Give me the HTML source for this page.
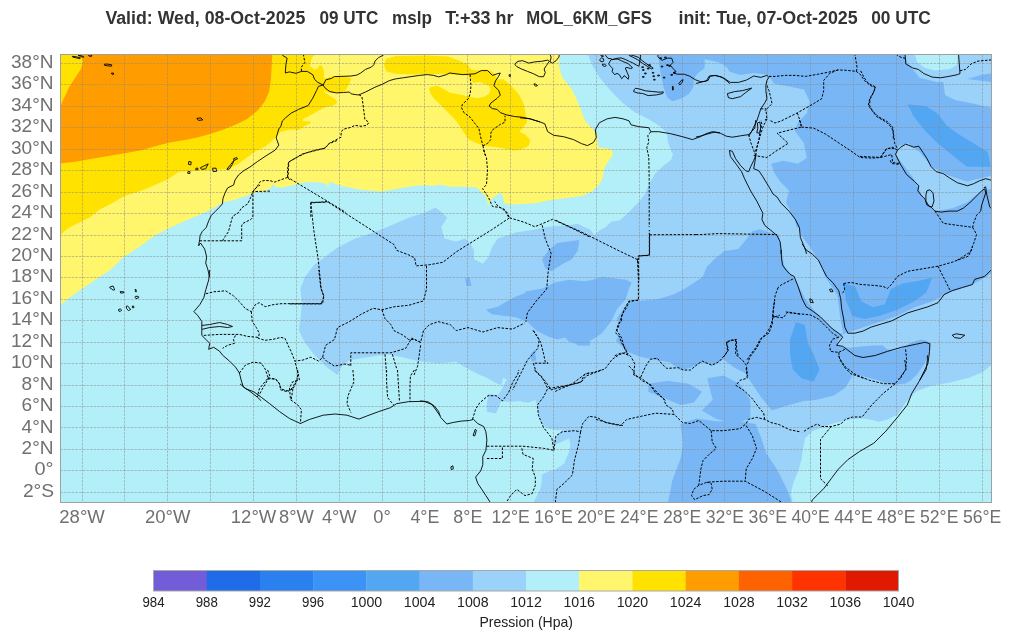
<!DOCTYPE html><html><head><meta charset="utf-8"><style>
html,body{margin:0;padding:0;background:#fff;}
svg{display:block;}
text{font-family:"Liberation Sans",Arial,sans-serif;}
</style></head><body>
<svg width="1011" height="641" viewBox="0 0 1011 641">
<rect width="1011" height="641" fill="#fff"/>
<text x="105.4" y="23.7" font-size="17.6" font-weight="bold" fill="#333" textLength="199.9" lengthAdjust="spacingAndGlyphs">Valid: Wed, 08-Oct-2025</text>
<text x="319.4" y="23.7" font-size="17.6" font-weight="bold" fill="#333" textLength="59.0" lengthAdjust="spacingAndGlyphs">09 UTC</text>
<text x="392.1" y="23.7" font-size="17.6" font-weight="bold" fill="#333" textLength="39.9" lengthAdjust="spacingAndGlyphs">mslp</text>
<text x="445.2" y="23.7" font-size="17.6" font-weight="bold" fill="#333" textLength="68.2" lengthAdjust="spacingAndGlyphs">T:+33 hr</text>
<text x="526.2" y="23.7" font-size="17.6" font-weight="bold" fill="#333" textLength="125.7" lengthAdjust="spacingAndGlyphs">MOL_6KM_GFS</text>
<text x="678.5" y="23.7" font-size="17.6" font-weight="bold" fill="#333" textLength="179.2" lengthAdjust="spacingAndGlyphs">init: Tue, 07-Oct-2025</text>
<text x="871.2" y="23.7" font-size="17.6" font-weight="bold" fill="#333" textLength="59.7" lengthAdjust="spacingAndGlyphs">00 UTC</text>
<defs><clipPath id="mc"><rect x="60.5" y="54.5" width="931.0" height="448.0"/></clipPath></defs>
<g clip-path="url(#mc)">
<rect x="60.5" y="54.5" width="931.0" height="448.0" fill="#b3eff8"/>
<path d="M50.0,50.0 559.9,50.0 559.9,54.0 558.7,65.6 562.2,77.2 571.5,88.9 577.3,100.5 580.8,109.8 585.4,121.4 592.4,128.4 597.1,135.4 598.2,147.0 611.0,149.3 613.3,154.0 608.7,160.9 604.0,167.9 602.9,177.2 599.4,184.2 592.4,191.1 583.1,195.8 566.8,198.1 548.2,200.4 536.6,203.0 529.9,203.5 512.3,204.5 504.4,203.5 502.4,195.6 500.4,192.6 496.4,195.6 490.5,199.5 488.5,206.5 486.5,197.6 480.6,191.6 476.6,187.2 460.8,186.7 448.9,186.7 441.0,184.7 433.0,185.7 421.1,185.3 409.3,186.7 393.4,189.6 381.5,191.6 369.6,190.6 359.7,189.6 349.8,187.6 339.9,185.7 330.0,181.7 329.8,181.5 328.0,187.5 326.8,183.9 320.9,182.7 310.2,182.1 303.1,182.7 297.2,183.9 291.2,185.7 281.7,187.5 275.8,186.9 273.4,183.9 271.0,187.5 265.1,191.0 259.2,191.6 253.3,193.6 244.3,196.6 232.4,200.5 222.5,202.5 214.5,207.5 202.7,213.4 188.8,219.3 171.0,227.3 155.1,235.2 139.3,247.1 123.4,257.0 111.5,268.9 99.6,277.0 78.6,291.1 60.0,305.0 50.0,307.0Z" fill="#fff66b"/>
<path d="M50.0,50.0 315.6,50.0 315.6,54.0 312.0,57.6 309.7,65.9 314.4,69.4 318.0,68.2 319.2,65.3 322.1,65.9 323.9,70.6 324.0,74.7 323.5,77.5 326.8,78.4 330.5,76.6 336.2,76.6 345.5,77.0 351.1,78.4 349.3,84.0 346.5,88.7 344.6,91.5 339.9,92.5 332.4,92.9 326.8,92.0 323.1,89.7 324.9,92.5 330.5,96.2 336.2,100.0 337.1,102.8 333.4,105.6 324.9,107.4 317.4,111.2 310.9,114.9 303.4,118.7 302.5,121.0 310.9,121.5 310.0,123.4 304.3,126.2 298.7,130.0 290.0,129.5 280.0,132.0 275.8,137.2 265.9,146.2 256.0,151.1 246.2,157.9 238.3,163.9 228.4,168.8 218.5,169.8 198.7,170.8 178.9,171.8 167.0,179.7 153.1,185.7 139.3,191.6 125.4,195.6 111.5,203.5 99.6,209.4 89.7,217.4 79.8,222.3 67.9,228.3 60.0,235.2 54.1,235.2Z" fill="#ffe200"/>
<path d="M386.3,58.7 395.8,55.9 427.5,55.6 448.1,56.4 462.3,61.9 468.6,68.2 478.1,71.4 484.5,69.8 478.1,74.6 468.6,75.4 454.4,74.6 443.3,73.8 427.5,74.3 411.7,74.6 395.8,73.8 386.3,71.4 384.0,65.1Z" fill="#ffe200"/>
<path d="M429.1,88.8 430.6,87.2 437.0,85.7 443.3,88.8 449.6,92.8 462.3,95.1 468.6,96.7 478.1,98.3 484.5,96.7 489.2,93.6 490.8,88.8 487.6,84.1 490.8,80.9 495.5,79.3 503.4,79.3 511.4,85.7 519.3,95.1 524.0,104.6 525.6,114.1 527.2,122.1 522.4,128.4 519.3,131.5 525.6,134.7 530.3,140.3 528.8,145.8 522.4,149.0 514.5,150.5 506.6,149.0 498.7,147.4 490.8,146.6 482.9,145.8 475.0,142.6 468.6,139.5 462.3,130.0 456.0,120.5 448.1,112.6 440.1,104.6 433.8,98.3 430.6,93.6Z" fill="#ffe200"/>
<path d="M460.0,62.2 466.6,63.3 472.0,70.9 479.7,70.0 487.3,69.6 492.8,72.0 496.6,76.4 494.9,81.8 490.6,85.7 485.1,84.2 479.7,81.8 473.1,83.2 470.9,78.6 466.6,74.2 460.0,73.1Z" fill="#ffe200"/>
<path d="M83.0,50.0 272.5,50.0 271.7,66.5 270.9,79.0 269.2,91.4 264.7,101.4 257.2,110.9 247.2,118.9 234.7,125.1 222.2,130.1 209.8,133.9 197.3,137.6 184.8,140.1 169.8,142.6 159.8,145.1 142.4,150.1 124.9,153.3 109.9,155.8 92.4,158.8 75.0,161.8 57.5,163.8 57.0,106.5 60.4,106.5 63.0,100.0 65.6,95.0 68.7,87.9 72.6,81.7 77.3,74.6 81.2,68.4 82.6,63.7 83.0,54.0Z" fill="#ff9c00"/>
<path d="M587.8,50.0 587.8,54.0 592.4,65.6 599.4,77.2 611.0,91.2 622.6,102.8 634.3,112.1 648.2,119.1 659.8,126.1 666.8,133.0 668.0,142.3 671.4,151.6 673.0,154.0 671.0,159.9 663.1,165.9 655.1,173.8 649.2,183.7 645.2,193.6 639.3,201.5 633.3,207.5 625.4,215.4 619.5,220.4 611.5,221.4 605.6,227.3 599.6,230.3 594.7,235.2 589.7,229.3 583.8,226.7 577.8,223.7 568.9,225.2 548.2,226.7 533.3,229.7 515.5,232.6 497.7,238.6 491.8,247.5 488.8,256.4 482.9,263.8 474.0,259.3 474.0,250.4 471.0,244.5 465.1,238.6 456.2,241.5 444.3,238.6 441.3,226.7 447.3,217.8 441.3,211.9 435.4,207.4 426.5,211.9 408.7,217.8 387.9,226.7 373.1,232.6 355.3,238.6 337.5,247.5 325.6,256.4 313.7,265.3 304.8,277.2 300.4,289.0 301.9,303.9 300.4,318.7 298.9,330.6 304.8,342.4 313.7,354.3 325.6,366.2 337.5,375.1 341.9,366.2 349.3,360.2 367.2,357.3 387.9,354.3 402.8,357.3 414.6,360.2 423.5,361.7 438.4,363.2 456.2,361.7 468.0,369.1 479.9,375.1 486.9,377.7 495.9,383.1 501.3,384.9 503.1,377.7 506.6,379.5 501.3,390.2 497.7,395.6 488.7,393.8 486.9,402.8 486.9,411.8 495.9,413.6 501.3,401.0 510.2,401.9 519.2,401.0 528.2,402.8 535.5,400.0 537.1,406.4 538.6,415.9 543.4,425.5 548.2,428.6 557.7,430.2 562.5,429.4 559.3,433.4 556.1,438.2 551.4,443.0 554.6,444.6 562.5,441.4 568.9,438.2 570.5,444.6 568.9,452.5 564.1,463.7 554.6,470.0 548.2,471.6 541.8,474.8 541.8,481.2 540.2,489.1 537.1,495.5 533.9,502.0 533.9,510.0 793.2,510.0 793.2,505.0 790.9,492.9 793.2,483.4 798.0,471.6 801.5,459.7 802.7,450.2 805.1,438.3 812.2,431.2 821.7,427.7 831.2,424.1 840.7,421.7 850.2,419.3 859.7,418.2 869.2,419.3 878.7,421.7 888.2,419.3 897.7,414.6 907.2,400.4 916.7,390.9 930.9,386.1 949.9,382.6 968.9,377.8 983.1,371.9 991.5,364.7 1000.0,362.0 1000.0,50.0Z" fill="#9bd2f9"/>
<path d="M542.2,259.3 548.2,250.4 557.1,243.0 568.9,241.5 579.3,240.1 577.8,250.4 571.9,259.3 563.0,263.8 551.1,271.2 545.2,268.2Z" fill="#78b6f5"/>
<path d="M485.8,309.8 497.7,306.8 512.6,297.9 527.4,292.0 545.2,289.0 557.1,286.1 571.9,286.1 583.8,283.1 590.0,284.6 590.0,345.4 577.8,345.4 568.9,336.5 557.1,339.5 548.2,336.5 536.3,330.6 527.4,321.7 515.5,317.2 503.6,315.7 491.8,314.2Z" fill="#78b6f5"/>
<path d="M465.1,278.6 469.5,277.2 471.6,286.1 466.6,286.1Z" fill="#78b6f5"/>
<path d="M530.4,354.3 534.8,349.9 536.3,360.2 531.8,361.7Z" fill="#78b6f5"/>
<path d="M697.5,50.0 697.5,54.0 704.6,59.3 713.5,61.1 720.6,62.9 726.0,66.5 729.7,71.8 740.2,75.0 753.4,73.0 768.2,74.8 774.2,83.7 789.0,86.6 803.9,89.6 809.8,101.5 806.8,113.3 797.9,122.2 795.0,131.2 803.9,143.0 806.8,157.9 797.9,163.8 783.1,160.8 771.2,163.8 774.2,172.7 780.1,181.6 789.0,190.5 786.1,202.4 795.0,220.2 800.9,244.0 778.0,235.0 760.0,229.3 752.3,231.3 746.3,239.2 738.4,249.1 724.5,251.1 714.6,259.0 706.7,266.9 702.7,277.0 685.2,288.6 673.4,294.5 658.5,299.0 643.7,300.4 628.9,301.9 622.9,309.3 617.0,318.2 620.0,333.1 616.1,340.7 626.8,351.5 640.3,356.8 653.7,359.5 669.8,362.2 680.5,370.3 691.3,367.6 702.0,362.2 712.7,364.9 723.5,359.5 734.2,367.6 744.9,372.9 750.3,381.0 761.0,397.1 771.8,410.5 787.9,405.2 804.0,401.0 815.5,400.1 833.7,395.5 845.1,388.0 850.0,380.0 853.2,373.9 859.2,375.1 867.5,377.5 877.0,379.9 886.5,383.4 896.0,384.6 905.5,383.4 910.2,381.0 917.3,373.9 923.3,365.6 929.2,353.7 930.4,343.1 926.8,340.7 920.9,339.5 910.2,343.1 903.1,347.8 893.6,350.8 886.5,349.0 882.9,345.4 873.4,345.4 861.5,346.6 849.7,347.8 837.8,346.6 838.0,340.0 843.4,333.9 861.2,327.9 879.0,322.0 896.8,316.1 914.6,307.2 932.4,301.2 950.2,292.3 968.0,286.4 979.9,280.4 995.0,271.5 1000.0,271.0 1000.0,50.0Z" fill="#78b6f5"/>
<path d="M658.3,53.1 697.5,53.1 704.6,59.3 704.6,68.2 697.5,73.6 693.9,78.9 693.1,87.8 688.6,94.1 681.5,98.5 672.6,101.2 667.2,97.6 663.7,87.8 661.0,75.4 659.2,64.7Z" fill="#78b6f5"/>
<path d="M525.0,291.5 542.8,288.6 554.7,282.6 569.5,279.7 584.3,281.2 593.2,279.7 602.2,276.7 614.0,278.2 625.9,279.7 631.8,282.6 628.9,288.6 625.9,299.0 617.0,309.3 611.1,321.2 602.2,333.1 593.2,339.0 581.4,345.0 569.5,342.0 563.6,336.1 554.7,330.1 542.8,324.2 533.9,321.2 525.0,321.2Z" fill="#78b6f5"/>
<path d="M648.3,383.7 667.1,381.0 688.5,383.7 702.0,391.7 693.9,402.4 680.5,405.1 661.7,397.1 648.3,391.7Z" fill="#78b6f5"/>
<path d="M707.3,378.3 723.4,375.6 739.5,383.7 750.3,399.8 750.3,418.5 734.2,423.9 715.4,418.5 702.0,410.5 712.7,399.8Z" fill="#78b6f5"/>
<path d="M680.5,423.9 696.6,418.5 715.4,421.2 739.5,421.2 755.6,423.9 761.0,437.3 766.4,453.4 777.1,469.5 787.8,491.0 793.2,507.1 667.1,507.1 672.4,480.3 680.5,458.8 683.2,442.7Z" fill="#78b6f5"/>
<path d="M778.1,230.0 781.1,247.8 784.0,265.6 795.9,280.4 804.8,298.2 813.7,310.1 825.6,322.0 837.4,332.4 843.4,333.9 840.4,319.0 837.4,295.3 825.6,277.5 819.6,262.6 810.7,247.8 801.8,235.9 798.9,228.0 778.0,228.0Z" fill="#9bd2f9"/>
<path d="M990.8,175.7 967.1,181.6 949.3,175.7 931.5,166.8 919.6,151.9 907.7,143.0 898.8,146.0 895.8,154.9 904.7,166.8 913.6,178.6 919.6,190.5 925.5,202.4 934.4,211.3 952.2,208.3 967.1,202.4 981.9,190.5 1000.0,187.5 1000.0,175.0Z" fill="#9bd2f9"/>
<path d="M904.7,50.0 904.7,54.0 907.7,62.9 919.6,77.7 937.4,82.2 961.1,80.7 981.9,74.8 1000.0,71.8 1000.0,50.0Z" fill="#9bd2f9"/>
<path d="M943.0,80.0 960.0,78.0 975.0,80.0 992.0,82.0 992.0,108.0 975.0,104.0 955.0,100.0 945.0,95.0Z" fill="#9bd2f9"/>
<path d="M913.0,50.0 915.0,54.9 917.0,62.0 925.0,68.0 935.0,70.5 950.0,69.0 957.0,65.0 958.0,50.0Z" fill="#b3eff8"/>
<path d="M907.7,104.4 925.5,105.9 937.4,113.3 946.3,125.2 958.2,134.1 973.0,143.0 987.8,151.9 990.8,166.8 967.1,166.8 952.2,154.9 937.4,143.0 925.5,131.2 913.6,116.3Z" fill="#53a6f2"/>
<path d="M790.0,339.8 795.9,322.0 804.8,325.0 807.8,342.8 813.7,354.6 819.6,369.5 813.7,381.3 801.8,378.4 792.9,369.5 790.0,354.6Z" fill="#53a6f2"/>
<path d="M843.4,283.4 855.2,286.4 861.2,301.2 873.0,307.2 884.9,304.2 890.8,289.3 902.7,283.4 920.5,280.4 932.4,277.5 926.5,292.3 914.6,301.2 896.8,310.1 879.0,316.1 864.1,319.0 852.3,316.1 846.3,301.2Z" fill="#53a6f2"/>
<path d="M82.5,54.5V502.5M124.5,54.5V502.5M167.5,54.5V502.5M210.5,54.5V502.5M253.5,54.5V502.5M296.5,54.5V502.5M339.5,54.5V502.5M382.5,54.5V502.5M424.5,54.5V502.5M467.5,54.5V502.5M510.5,54.5V502.5M553.5,54.5V502.5M596.5,54.5V502.5M639.5,54.5V502.5M682.5,54.5V502.5M724.5,54.5V502.5M767.5,54.5V502.5M810.5,54.5V502.5M853.5,54.5V502.5M896.5,54.5V502.5M939.5,54.5V502.5M982.5,54.5V502.5M60.5,492.5H991.5M60.5,470.5H991.5M60.5,449.5H991.5M60.5,427.5H991.5M60.5,406.5H991.5M60.5,385.5H991.5M60.5,363.5H991.5M60.5,342.5H991.5M60.5,320.5H991.5M60.5,299.5H991.5M60.5,277.5H991.5M60.5,256.5H991.5M60.5,235.5H991.5M60.5,213.5H991.5M60.5,192.5H991.5M60.5,170.5H991.5M60.5,149.5H991.5M60.5,127.5H991.5M60.5,106.5H991.5M60.5,84.5H991.5M60.5,63.5H991.5" stroke="#888" stroke-opacity="0.62" stroke-width="0.8" stroke-dasharray="2.6 1.1" fill="none"/>
<path d="M290.0,303.9 321.2,303.9 324.1,296.4 321.2,289.0 318.2,259.3 313.7,229.7 310.8,203.0 327.1,201.5 393.9,244.5 396.8,250.4 408.7,254.9 414.6,257.9 416.1,265.9 429.5,264.7 442.8,262.3 456.2,251.9 468.0,244.5 491.8,229.7 509.6,217.8 506.6,211.9 497.7,205.9 494.7,201.5" stroke="#000" stroke-width="1" stroke-dasharray="2.5 1.5" fill="none"/>
<path d="M509.6,217.8 524.4,222.3 534.8,226.7 542.2,223.7 552.6,219.3 571.9,228.2 590.0,237.1" stroke="#000" stroke-width="1" stroke-dasharray="2.5 1.5" fill="none"/>
<path d="M542.2,225.2 545.2,238.6 551.1,253.4 548.2,271.2 546.7,289.0 536.3,300.9 527.4,312.8 525.9,321.7" stroke="#000" stroke-width="1" stroke-dasharray="2.5 1.5" fill="none"/>
<path d="M426.5,265.9 426.5,289.0 423.5,300.9 408.7,305.3 393.9,306.8 382.0,309.8 373.1,308.3 361.2,314.2 349.3,321.7 337.5,327.6 334.5,339.5 325.6,345.4 322.6,357.3" stroke="#000" stroke-width="1" stroke-dasharray="2.5 1.5" fill="none"/>
<path d="M382.0,309.8 385.0,318.7 390.9,324.6 393.9,330.6 402.8,335.0 408.7,339.5 414.6,339.5 420.6,342.4 423.5,330.6 429.5,324.6 438.4,321.7 450.2,324.6 456.2,330.6 468.0,327.6 482.9,332.0 497.7,327.6 512.6,329.1 524.4,323.1" stroke="#000" stroke-width="1" stroke-dasharray="2.5 1.5" fill="none"/>
<path d="M420.6,342.4 411.7,338.0 405.7,348.4 390.9,352.8 379.0,352.8 350.8,352.8 350.8,366.2" stroke="#000" stroke-width="1" stroke-dasharray="2.5 1.5" fill="none"/>
<path d="M385.0,354.3 386.4,372.1" stroke="#000" stroke-width="1" stroke-dasharray="2.5 1.5" fill="none"/>
<path d="M392.4,354.3 396.8,369.1" stroke="#000" stroke-width="1" stroke-dasharray="2.5 1.5" fill="none"/>
<path d="M420.6,345.4 417.6,366.2 414.0,375.1" stroke="#000" stroke-width="1" stroke-dasharray="2.5 1.5" fill="none"/>
<path d="M533.3,330.6 539.3,339.5 537.8,348.4 527.4,360.2 521.5,372.1 515.5,384.0 512.6,389.9" stroke="#000" stroke-width="1" stroke-dasharray="2.5 1.5" fill="none"/>
<path d="M533.3,330.6 540.7,342.4 543.7,354.3 545.2,361.7 548.2,363.2 533.3,363.2 536.3,372.1 545.2,381.0 551.1,389.9 571.9,384.0 583.8,375.1 590.0,372.1" stroke="#000" stroke-width="1" stroke-dasharray="2.5 1.5" fill="none"/>
<path d="M282.4,50.0 282.4,55.2 287.1,58.2 285.9,64.7 285.3,73.0 289.4,71.9 295.9,73.3 301.5,71.4 307.2,71.4 312.8,74.7 314.6,79.4 317.5,82.2 323.1,85.0 325.9,79.8 331.5,78.4 334.3,76.6 340.9,76.4 350.2,76.1 356.8,75.1 360.7,73.0 365.5,69.4 371.4,67.1 373.8,64.7 375.0,61.1 378.5,57.6 383.3,55.2 385.0,50.0" stroke="#000" stroke-width="0.9" fill="none" stroke-linejoin="round"/>
<path d="M301.4,71.2 301.4,67.1 304.9,62.3 303.7,56.4 303.1,50.0" stroke="#000" stroke-width="1" stroke-dasharray="2.5 1.5" fill="none"/>
<path d="M323.1,85.0 324.9,87.8 329.6,91.5 336.2,92.9 343.7,92.5 349.3,92.0 351.2,93.9 356.8,94.8 358.9,94.9 365.5,92.0 375.0,87.2 382.1,84.3 389.2,80.7 395.0,79.0 403.7,77.7 419.6,75.4 427.5,74.6 433.8,75.4 438.6,76.9 446.5,74.6 449.6,73.0 456.0,73.8 462.3,74.6 468.6,74.3 475.0,73.8 481.3,70.6 487.6,70.6 492.4,75.4 497.1,73.8 500.3,73.0 498.7,76.2 495.5,80.9 493.9,85.7 498.7,90.4 500.3,95.1 497.1,98.3 490.8,103.1 489.2,106.2 492.4,108.6 497.1,109.4 500.3,112.6 506.6,114.9 514.5,116.5 522.4,117.3 530.3,118.9 540.0,122.0" stroke="#000" stroke-width="0.9" fill="none" stroke-linejoin="round"/>
<path d="M323.1,85.0 318.4,86.4 316.5,90.6 312.8,98.1 308.1,105.6 298.7,109.3 291.2,113.1 285.6,117.8 282.3,121.0 280.9,126.2 278.8,129.0 276.2,137.8 278.8,145.2 275.0,150.2 265.0,156.5 257.5,161.5 250.0,167.0 244.0,170.5 238.5,175.0 235.0,180.0 233.6,185.0 227.5,188.0 225.0,193.1 223.0,198.2 222.4,203.8 219.4,207.3 215.3,211.4 211.3,215.4 208.8,220.5 206.2,227.6 202.2,231.6 200.1,235.7 199.6,239.8 198.6,245.8 200.5,243.0 204.7,249.1 206.7,257.0 205.7,263.0 207.7,268.9 209.7,277.0" stroke="#000" stroke-width="0.9" fill="none" stroke-linejoin="round"/>
<path d="M209.7,270.0 208.7,279.9 205.8,289.8 203.8,297.7 199.8,304.7 193.9,311.6 197.8,315.6 201.8,321.5 201.8,325.5 201.8,329.4 201.8,335.4 205.8,339.3 209.7,343.3 208.7,349.3 213.7,347.3 219.6,351.2 222.6,355.2 229.5,361.1 235.5,367.1 239.4,373.0 241.4,381.0 243.4,386.9 249.3,390.9 257.3,397.0 261.2,400.8" stroke="#000" stroke-width="0.9" fill="none" stroke-linejoin="round"/>
<path d="M201.8,325.5 209.7,324.5 219.6,322.5 227.6,324.5 232.5,326.5 227.6,327.5 219.6,326.5 209.7,327.5 201.8,329.4" stroke="#000" stroke-width="0.9" fill="none" stroke-linejoin="round"/>
<path d="M205.8,293.8 213.7,291.8 225.6,290.8 233.5,295.8 239.4,301.7 245.4,308.6 251.3,311.6 255.3,304.7 259.3,302.7 265.2,306.7 273.1,304.7 281.0,303.7 298.9,303.7 322.7,303.7 323.6,295.8 320.7,287.8 319.7,277.9 318.7,270.0" stroke="#000" stroke-width="1" stroke-dasharray="2.5 1.5" fill="none"/>
<path d="M251.3,311.6 252.3,321.5 256.3,327.5 259.3,333.4 258.3,338.4 265.2,340.3 273.1,339.3 281.0,337.4 285.0,338.4 289.0,347.3 291.0,351.2 294.9,361.1 302.8,360.1 310.8,357.2 318.7,361.1 322.7,357.2 326.6,361.1 334.5,366.1 344.4,364.1 350.4,365.1" stroke="#000" stroke-width="1" stroke-dasharray="2.5 1.5" fill="none"/>
<path d="M203.8,335.4 219.6,334.4 239.4,334.4 247.4,336.4 258.3,337.4" stroke="#000" stroke-width="1" stroke-dasharray="2.5 1.5" fill="none"/>
<path d="M235.5,335.4 233.5,339.3 234.5,343.3 227.6,345.3 222.6,348.3" stroke="#000" stroke-width="1" stroke-dasharray="2.5 1.5" fill="none"/>
<path d="M239.4,373.0 245.4,365.1 253.3,362.1 261.2,363.1 265.2,369.1 268.2,378.0 263.2,383.9 259.3,388.9 257.3,397.0" stroke="#000" stroke-width="1" stroke-dasharray="2.5 1.5" fill="none"/>
<path d="M268.2,378.0 275.1,379.0 279.1,382.9 281.0,388.9 287.0,390.9 292.9,388.9 296.9,381.0 297.9,373.0 295.9,365.1 294.9,361.1" stroke="#000" stroke-width="1" stroke-dasharray="2.5 1.5" fill="none"/>
<path d="M292.9,388.9 291.0,400.8" stroke="#000" stroke-width="1" stroke-dasharray="2.5 1.5" fill="none"/>
<path d="M240.0,383.9 245.9,388.8 253.9,391.8 261.8,397.7 269.7,403.7 279.6,411.6 289.5,418.5 300.4,423.5 309.3,419.5 323.2,415.2 335.1,414.0 347.0,415.2 358.9,419.1 366.8,416.0 378.7,411.6 390.6,407.6 396.5,403.7 408.4,401.7 424.3,401.3 432.2,404.7 439.9,415.6" stroke="#000" stroke-width="0.9" fill="none" stroke-linejoin="round"/>
<path d="M297.5,370.0 299.4,379.9 292.5,381.9 289.5,387.8 290.5,399.7 297.5,404.7 301.4,409.6 300.4,423.5" stroke="#000" stroke-width="1" stroke-dasharray="2.5 1.5" fill="none"/>
<path d="M267.7,370.0 269.7,375.9 267.7,379.9 261.8,389.8 258.8,395.8" stroke="#000" stroke-width="1" stroke-dasharray="2.5 1.5" fill="none"/>
<path d="M267.7,378.9 275.7,378.9 279.6,383.9 280.6,389.8 287.6,391.8 292.5,387.8 297.5,377.9" stroke="#000" stroke-width="1" stroke-dasharray="2.5 1.5" fill="none"/>
<path d="M352.9,370.0 353.9,381.9 348.0,395.8 347.0,403.7 351.0,412.6" stroke="#000" stroke-width="1" stroke-dasharray="2.5 1.5" fill="none"/>
<path d="M386.6,370.0 386.6,381.9 387.6,397.7 393.5,404.7" stroke="#000" stroke-width="1" stroke-dasharray="2.5 1.5" fill="none"/>
<path d="M397.5,370.0 398.5,385.9 399.5,401.7" stroke="#000" stroke-width="1" stroke-dasharray="2.5 1.5" fill="none"/>
<path d="M414.4,370.0 410.4,375.9 410.0,385.9 410.0,401.7" stroke="#000" stroke-width="1" stroke-dasharray="2.5 1.5" fill="none"/>
<path d="M420.0,400.9 428.2,401.9 434.4,406.0 438.5,411.2 440.6,417.4 446.8,424.0 452.9,422.5 461.2,421.1 469.4,420.5 473.5,419.4 477.7,423.5 483.8,426.6 485.9,431.8 486.9,440.0 485.9,450.3 482.8,456.5 482.8,464.7 480.7,470.9 475.6,477.1 477.7,483.3 481.8,489.4 485.9,495.6 490.0,502.0 492.1,505.9" stroke="#000" stroke-width="0.9" fill="none" stroke-linejoin="round"/>
<path d="M473.1,435.5 475.2,429.3 476.4,430.1 474.8,435.9Z" stroke="#000" stroke-width="0.9" fill="none" stroke-linejoin="round"/>
<path d="M450.9,466.8 452.9,465.8 453.4,468.8 451.3,469.7Z" stroke="#000" stroke-width="0.9" fill="none" stroke-linejoin="round"/>
<path d="M472.5,419.4 475.6,409.1 479.7,402.9 488.0,395.7 496.2,395.7 502.4,400.9 508.5,392.7 512.7,382.4 517.8,374.1 518.8,370.0" stroke="#000" stroke-width="1" stroke-dasharray="2.5 1.5" fill="none"/>
<path d="M534.3,370.0 541.5,376.2 547.7,388.5 543.6,396.8 537.4,405.0 538.4,415.3 543.6,427.7 551.8,438.0 553.9,450.3" stroke="#000" stroke-width="1" stroke-dasharray="2.5 1.5" fill="none"/>
<path d="M486.9,446.2 502.4,446.2 523.0,446.2 543.6,448.3 553.9,450.3" stroke="#000" stroke-width="1" stroke-dasharray="2.5 1.5" fill="none"/>
<path d="M486.9,458.5 502.4,458.5 502.4,446.2" stroke="#000" stroke-width="1" stroke-dasharray="2.5 1.5" fill="none"/>
<path d="M521.9,448.3 523.0,454.4 533.3,458.5 532.2,468.8 535.3,477.1 535.3,485.3 532.2,493.6 525.0,495.6 516.8,489.4 510.6,495.6 506.5,502.0" stroke="#000" stroke-width="1" stroke-dasharray="2.5 1.5" fill="none"/>
<path d="M553.9,450.3 555.9,435.9 562.1,431.8 574.4,430.7 580.6,431.8 582.7,423.5 588.9,416.3 597.1,417.4 605.3,422.5 617.7,424.6 623.9,425.6" stroke="#000" stroke-width="1" stroke-dasharray="2.5 1.5" fill="none"/>
<path d="M580.6,431.8 578.6,444.1 574.4,460.6 572.4,475.0 564.1,483.3 556.9,489.4 554.9,505.9" stroke="#000" stroke-width="1" stroke-dasharray="2.5 1.5" fill="none"/>
<path d="M548.7,388.5 560.0,386.5 568.3,385.4 580.6,382.4 584.7,374.1 595.0,372.1 601.2,370.0" stroke="#000" stroke-width="1" stroke-dasharray="2.5 1.5" fill="none"/>
<path d="M628.8,365.9 632.9,370.0 635.0,375.1 641.2,378.2 649.4,384.4 655.6,392.7 663.8,398.8 665.9,405.0 672.1,409.1 674.1,414.3" stroke="#000" stroke-width="1" stroke-dasharray="2.5 1.5" fill="none"/>
<path d="M595.9,419.4 600.0,420.5 610.3,423.5 620.6,425.6 626.8,419.4 641.2,416.3 655.6,413.2 672.1,414.3 674.1,414.3 682.4,422.5 690.6,423.5 698.8,420.5 705.0,425.6 711.2,430.7 723.6,430.7 731.8,429.7 740.0,428.7 746.2,423.5 748.3,419.4 756.5,417.4 764.7,419.4 770.9,422.5 779.2,424.6 789.5,429.7 800.0,431.8" stroke="#000" stroke-width="1" stroke-dasharray="2.5 1.5" fill="none"/>
<path d="M711.2,430.7 712.2,442.1 716.3,448.3 709.1,454.4 703.0,460.6 700.9,468.8 698.8,485.3 707.1,482.2 723.6,481.2 745.2,481.2 764.7,491.5 781.2,502.0" stroke="#000" stroke-width="1" stroke-dasharray="2.5 1.5" fill="none"/>
<path d="M746.2,425.6 752.4,435.9 756.5,448.3 752.4,458.5 746.2,468.8 745.2,481.2" stroke="#000" stroke-width="1" stroke-dasharray="2.5 1.5" fill="none"/>
<path d="M698.8,485.3 693.7,489.4 691.6,495.6 694.7,499.7 703.0,495.6 709.1,494.6 712.2,489.4 711.2,483.3 707.1,482.2" stroke="#000" stroke-width="1" stroke-dasharray="2.5 1.5" fill="none"/>
<path d="M746.2,367.9 747.2,378.2 740.0,380.3 735.9,385.4 744.1,390.6 752.4,398.8 758.6,407.1 763.7,413.2 764.7,419.4" stroke="#000" stroke-width="1" stroke-dasharray="2.5 1.5" fill="none"/>
<path d="M927.4,355.3 927.4,360.0 926.2,369.5 919.1,381.4 911.9,393.2 907.2,405.1 897.7,417.0 885.8,431.2 873.9,443.1 859.7,451.4 847.8,459.7 838.3,469.2 831.2,478.7 824.1,488.2 817.0,495.3 812.2,500.1 809.9,507.2" stroke="#000" stroke-width="0.9" fill="none" stroke-linejoin="round"/>
<path d="M904.8,360.0 906.0,369.5 895.3,383.7 883.4,383.7 869.2,380.2 855.0,374.2 845.5,367.1 840.7,360.0 838.3,355.3" stroke="#000" stroke-width="1" stroke-dasharray="2.5 1.5" fill="none"/>
<path d="M895.3,383.7 883.4,393.2 871.6,405.1 862.1,417.0 852.6,417.0 845.5,419.3 840.7,424.1 831.2,426.5 821.7,426.5 817.0,424.1 807.5,428.8 802.7,432.4" stroke="#000" stroke-width="1" stroke-dasharray="2.5 1.5" fill="none"/>
<path d="M831.2,426.5 820.5,439.5 820.5,455.0 820.5,478.7 827.7,485.8" stroke="#000" stroke-width="1" stroke-dasharray="2.5 1.5" fill="none"/>
<path d="M802.2,243.9 806.2,250.0 812.3,254.1 818.4,260.1 822.4,268.3 826.5,276.4 832.6,282.4 838.7,290.6 840.7,298.7 841.7,308.8 843.7,319.0 844.8,327.1 847.8,333.2 854.9,333.2 863.0,331.1 871.1,327.1 881.3,324.0 891.4,321.0 899.5,316.9 907.6,312.9 917.8,309.8 927.9,306.8 938.0,302.7 944.1,294.6 952.2,290.6 962.4,287.5 972.5,284.5 974.6,279.4 984.7,276.4 990.8,270.3 995.0,266.2" stroke="#000" stroke-width="0.9" fill="none" stroke-linejoin="round"/>
<path d="M790.0,274.3 794.1,276.4 798.1,286.5 802.2,298.7 806.2,306.8 812.3,310.8 820.4,316.9 826.5,323.0 832.6,329.1 838.7,333.2 842.7,337.2 838.7,342.3 836.6,345.3 842.7,346.3 846.8,349.4 854.9,355.5 863.0,357.5 875.2,355.5 887.3,351.4 901.5,347.3 915.7,344.3 924.9,342.3 929.9,343.7 929.5,351.4 927.9,363.6 923.9,371.7 919.8,380.0" stroke="#000" stroke-width="0.9" fill="none" stroke-linejoin="round"/>
<path d="M952.2,335.2 956.3,333.8 964.8,335.2 960.4,338.4 954.7,337.6Z" stroke="#000" stroke-width="0.9" fill="none" stroke-linejoin="round"/>
<path d="M829.5,289.5 831.6,288.9 833.0,291.6 830.6,291.8Z" stroke="#000" stroke-width="0.9" fill="none" stroke-linejoin="round"/>
<path d="M809.9,298.7 811.9,299.7 813.3,302.7 810.3,302.3Z" stroke="#000" stroke-width="0.9" fill="none" stroke-linejoin="round"/>
<path d="M843.7,283.5 850.8,282.4 861.0,284.5 875.2,285.5 883.3,286.5 887.3,288.5 891.4,284.5 897.5,276.4 907.6,271.3 919.8,269.3 938.0,266.2 952.2,262.2 968.5,256.1 971.5,250.0 972.5,245.9" stroke="#000" stroke-width="1" stroke-dasharray="2.5 1.5" fill="none"/>
<path d="M843.7,283.5 844.8,290.6 841.7,293.6" stroke="#000" stroke-width="1" stroke-dasharray="2.5 1.5" fill="none"/>
<path d="M938.0,266.2 944.1,278.4 950.2,290.6" stroke="#000" stroke-width="1" stroke-dasharray="2.5 1.5" fill="none"/>
<path d="M785.9,311.9 790.0,312.9 800.1,313.9 810.3,314.9 818.4,319.0 826.5,327.1 832.6,333.2 838.7,337.2" stroke="#000" stroke-width="1" stroke-dasharray="2.5 1.5" fill="none"/>
<path d="M838.7,337.2 832.6,339.2 829.5,345.3 830.6,351.4 838.7,352.4 844.8,349.4" stroke="#000" stroke-width="1" stroke-dasharray="2.5 1.5" fill="none"/>
<path d="M838.7,352.4 839.7,359.5 844.8,367.6 850.8,373.7 865.0,378.8" stroke="#000" stroke-width="1" stroke-dasharray="2.5 1.5" fill="none"/>
<path d="M905.6,349.4 906.6,359.5 905.6,369.7 899.5,380.0" stroke="#000" stroke-width="1" stroke-dasharray="2.5 1.5" fill="none"/>
<path d="M695.9,137.0 700.0,136.2 708.1,133.8 714.2,132.2 720.3,133.2 726.4,136.2 732.4,137.2 740.6,135.8 748.7,134.6 754.8,128.1 755.8,120.0" stroke="#000" stroke-width="0.9" fill="none" stroke-linejoin="round"/>
<path d="M781.1,253.9 781.1,250.0 780.1,241.7 777.1,235.6 771.0,230.5 764.9,225.5 761.9,219.4 762.9,213.3 756.8,201.1 750.7,191.0 744.6,178.8 741.6,171.7 736.5,164.6 730.4,156.5 729.4,150.4 732.4,151.4 735.5,158.5 740.6,165.6 745.6,170.7 748.7,171.7 750.7,166.6 753.7,160.6 755.8,155.5 754.8,162.6 753.7,168.7 758.8,170.7 762.9,176.8 769.0,186.9 773.0,194.0 777.1,197.1 781.1,203.2 789.2,211.3 795.3,219.4 799.4,227.5 800.4,237.6 805.5,250.0 806.5,253.9" stroke="#000" stroke-width="0.9" fill="none" stroke-linejoin="round"/>
<path d="M748.7,134.6 750.7,142.3 753.7,150.4 755.8,155.5" stroke="#000" stroke-width="1" stroke-dasharray="2.5 1.5" fill="none"/>
<path d="M755.8,155.5 756.8,148.4 758.8,140.3 759.8,132.2 761.9,124.1 760.8,120.0" stroke="#000" stroke-width="1" stroke-dasharray="2.5 1.5" fill="none"/>
<path d="M753.7,155.5 766.9,157.5 777.1,150.4 788.2,143.3 777.1,133.2 789.2,130.1 801.4,127.1 800.4,122.0 799.4,120.0" stroke="#000" stroke-width="1" stroke-dasharray="2.5 1.5" fill="none"/>
<path d="M801.4,127.1 813.6,128.1 825.7,134.2 837.9,142.3 850.1,150.4 860.2,157.5 872.4,158.1 880.5,157.5 886.6,148.4 894.7,148.4" stroke="#000" stroke-width="1" stroke-dasharray="2.5 1.5" fill="none"/>
<path d="M880.5,157.5 891.7,154.5 892.7,162.6 900.8,163.6" stroke="#000" stroke-width="1" stroke-dasharray="2.5 1.5" fill="none"/>
<path d="M695.9,234.6 700.0,234.6 718.3,233.6 777.1,234.6" stroke="#000" stroke-width="1" stroke-dasharray="2.5 1.5" fill="none"/>
<path d="M695.9,83.5 700.0,82.4 708.1,80.4 710.1,76.0 716.2,75.4 724.3,78.4 730.4,82.4 738.5,82.4 746.6,80.0 753.7,76.0 760.8,77.4 766.9,75.4 769.0,77.4 766.9,80.4 765.9,85.5 765.9,90.6 766.9,98.7 764.9,102.7 760.8,108.8 758.8,114.9 756.8,121.0 753.7,127.1 750.7,133.2 748.7,136.2" stroke="#000" stroke-width="0.9" fill="none" stroke-linejoin="round"/>
<path d="M727.4,93.6 734.5,91.6 742.6,90.6 751.7,88.1 745.6,92.6 740.6,96.6 732.4,98.7 728.4,97.7Z" stroke="#000" stroke-width="0.9" fill="none" stroke-linejoin="round"/>
<path d="M757.4,123.0 759.8,122.0 760.8,127.1 759.8,133.2 756.8,132.7 757.8,128.1Z" stroke="#000" stroke-width="0.9" fill="none" stroke-linejoin="round"/>
<path d="M769.0,76.4 775.0,76.4 785.2,75.4 795.3,75.4 805.5,76.4 817.6,74.3 829.8,71.9 837.9,69.9 846.0,70.3 856.2,71.3 857.2,68.3 856.2,62.2 855.1,55.1 855.1,50.0" stroke="#000" stroke-width="1" stroke-dasharray="2.5 1.5" fill="none"/>
<path d="M837.9,69.9 829.8,73.3 823.7,80.4 823.7,90.6 821.7,98.7 813.6,103.7 797.3,112.9 781.1,121.0 775.0,123.0 769.0,120.0" stroke="#000" stroke-width="1" stroke-dasharray="2.5 1.5" fill="none"/>
<path d="M797.3,112.9 799.4,119.0 801.4,126.1" stroke="#000" stroke-width="1" stroke-dasharray="2.5 1.5" fill="none"/>
<path d="M766.9,85.5 769.0,90.6 771.0,98.7 772.0,103.7 766.9,108.8 764.9,110.8" stroke="#000" stroke-width="1" stroke-dasharray="2.5 1.5" fill="none"/>
<path d="M760.8,108.8 765.9,108.8 766.9,119.0 764.9,120.0" stroke="#000" stroke-width="1" stroke-dasharray="2.5 1.5" fill="none"/>
<path d="M766.9,119.0 762.9,127.1 759.8,137.2 756.8,147.3 754.8,153.4" stroke="#000" stroke-width="1" stroke-dasharray="2.5 1.5" fill="none"/>
<path d="M856.2,71.3 860.2,74.3 864.3,80.4 870.4,85.5 875.4,87.5 873.4,92.6 870.4,98.7 869.3,104.8 872.4,110.8 878.5,116.9 886.6,121.0 892.7,127.1 893.7,135.2 894.7,143.3 897.7,149.4" stroke="#000" stroke-width="1" stroke-dasharray="2.5 1.5" fill="none"/>
<path d="M905.1,52.8 905.1,54.9 905.8,63.9 912.8,68.0 918.3,69.4 923.9,73.6 932.2,77.1 940.5,77.8 948.9,76.4 957.2,74.7 960.0,73.6 958.6,54.9 958.6,52.8" stroke="#000" stroke-width="0.9" fill="none" stroke-linejoin="round"/>
<path d="M960.0,70.8 965.5,69.4 971.1,63.9 978.0,61.1 993.3,59.7" stroke="#000" stroke-width="1" stroke-dasharray="2.5 1.5" fill="none"/>
<path d="M896.1,54.2 897.5,55.6 901.7,57.6 905.1,58.3" stroke="#000" stroke-width="1" stroke-dasharray="2.5 1.5" fill="none"/>
<path d="M860.7,70.8 864.2,77.8 868.3,83.3 875.3,86.8 873.9,91.7 869.7,98.6 868.3,105.5 872.5,111.1 876.7,116.6 886.4,122.2 891.9,127.8 893.3,133.3 893.3,139.0" stroke="#000" stroke-width="1" stroke-dasharray="2.5 1.5" fill="none"/>
<path d="M897.5,150.3 900.6,147.2 905.6,144.2 908.7,145.2 913.7,147.2 918.8,146.2 922.9,152.3 926.9,158.4 931.0,166.5 936.1,171.6 943.2,173.6 949.2,177.7 957.3,182.7 967.5,185.8 973.6,183.7 979.7,180.7 985.7,178.7 989.8,179.7 993.9,181.7" stroke="#000" stroke-width="0.9" fill="none" stroke-linejoin="round"/>
<path d="M897.5,150.3 895.5,154.3 900.6,164.5 906.6,174.6 914.8,181.7 918.8,185.8 917.8,190.8 920.8,194.9 924.9,199.0 926.9,205.0 931.0,207.1 935.0,211.1 941.1,212.1 949.2,211.1 957.3,211.1 963.4,208.1 969.5,203.0 975.6,196.9 981.7,190.8 984.7,188.8 985.7,192.9 983.7,199.0 981.7,205.0 980.7,211.1" stroke="#000" stroke-width="0.9" fill="none" stroke-linejoin="round"/>
<path d="M926.9,190.8 930.0,189.8 933.0,192.9 934.0,201.0 932.0,207.1 929.0,206.1 925.9,201.0 925.9,194.9Z" stroke="#000" stroke-width="0.9" fill="none" stroke-linejoin="round"/>
<path d="M983.7,187.8 985.7,186.8 986.8,194.9 989.8,207.1 993.9,211.1" stroke="#000" stroke-width="0.9" fill="none" stroke-linejoin="round"/>
<path d="M860.0,156.4 880.3,157.4 886.4,149.3 892.4,147.2 897.5,150.3" stroke="#000" stroke-width="1" stroke-dasharray="2.5 1.5" fill="none"/>
<path d="M890.4,160.4 891.4,163.5 900.6,164.5" stroke="#000" stroke-width="1" stroke-dasharray="2.5 1.5" fill="none"/>
<path d="M935.0,211.1 943.2,223.3 957.3,225.3 972.6,227.3 973.6,223.3 976.6,215.2 980.7,211.1" stroke="#000" stroke-width="1" stroke-dasharray="2.5 1.5" fill="none"/>
<path d="M972.6,227.3 976.6,234.4 973.6,243.6 970.5,251.7 961.4,257.8 957.3,260.0" stroke="#000" stroke-width="1" stroke-dasharray="2.5 1.5" fill="none"/>
<path d="M520.0,117.8 529.9,118.8 539.8,121.8 544.8,123.8 547.7,131.7 553.7,135.3 563.6,136.7 573.5,139.6 581.4,143.6 587.4,145.6 593.3,142.6 596.3,137.6 595.3,129.7 599.3,122.8 607.2,118.8 615.1,117.4 623.0,118.8 629.0,120.8 631.0,124.8 638.9,126.7 648.8,127.7 650.8,131.7 658.7,131.7 670.6,133.7 682.5,136.7 692.4,139.6 700.3,136.7 706.2,133.7 712.2,131.7 719.9,132.7" stroke="#000" stroke-width="0.9" fill="none" stroke-linejoin="round"/>
<path d="M650.8,131.7 647.8,135.7 648.8,141.6 646.8,147.6 648.8,157.5 649.2,179.3 649.2,227.0" stroke="#000" stroke-width="1" stroke-dasharray="2.5 1.5" fill="none"/>
<path d="M634.3,89.4 635.7,88.3 639.9,89.1 645.4,90.8 652.3,91.5 659.2,92.2 663.4,91.9 662.7,93.5 656.5,94.9 648.2,95.6 642.6,93.5 637.1,92.9 633.6,91.5Z" stroke="#000" stroke-width="0.9" fill="none" stroke-linejoin="round"/>
<path d="M678.6,83.8 681.4,80.4 683.1,79.7 682.1,82.5 680.0,85.0Z" stroke="#000" stroke-width="0.9" fill="none" stroke-linejoin="round"/>
<path d="M672.4,86.6 673.1,86.3 673.4,89.7 672.5,90.1Z" stroke="#000" stroke-width="0.9" fill="none" stroke-linejoin="round"/>
<path d="M657.9,54.1 657.9,56.8 662.0,60.3 667.5,58.2 671.7,58.2 673.1,62.4 670.3,65.2 673.1,68.6 675.9,71.4 673.1,72.8 677.2,74.2 684.2,74.2 689.7,76.2 695.2,79.7 700.8,81.8 706.3,81.1 709.1,76.2 714.6,75.5 721.6,76.9 727.1,81.1 730.0,83.8" stroke="#000" stroke-width="0.9" fill="none" stroke-linejoin="round"/>
<path d="M641.8,66.8 643.5,66.8 643.5,67.6 641.8,67.6Z" stroke="#000" stroke-width="0.9" fill="none" stroke-linejoin="round"/>
<path d="M642.5,69.6 644.1,69.6 644.1,70.4 642.5,70.4Z" stroke="#000" stroke-width="0.9" fill="none" stroke-linejoin="round"/>
<path d="M644.6,73.0 646.2,73.0 646.2,73.9 644.6,73.9Z" stroke="#000" stroke-width="0.9" fill="none" stroke-linejoin="round"/>
<path d="M642.5,76.5 644.1,76.5 644.1,77.3 642.5,77.3Z" stroke="#000" stroke-width="0.9" fill="none" stroke-linejoin="round"/>
<path d="M647.3,68.2 649.0,68.2 649.0,69.0 647.3,69.0Z" stroke="#000" stroke-width="0.9" fill="none" stroke-linejoin="round"/>
<path d="M648.7,64.7 650.4,64.7 650.4,65.6 648.7,65.6Z" stroke="#000" stroke-width="0.9" fill="none" stroke-linejoin="round"/>
<path d="M652.2,72.4 653.8,72.4 653.8,73.2 652.2,73.2Z" stroke="#000" stroke-width="0.9" fill="none" stroke-linejoin="round"/>
<path d="M652.9,75.8 654.5,75.8 654.5,76.6 652.9,76.6Z" stroke="#000" stroke-width="0.9" fill="none" stroke-linejoin="round"/>
<path d="M653.6,79.3 655.2,79.3 655.2,80.1 653.6,80.1Z" stroke="#000" stroke-width="0.9" fill="none" stroke-linejoin="round"/>
<path d="M657.7,75.1 659.4,75.1 659.4,76.0 657.7,76.0Z" stroke="#000" stroke-width="0.9" fill="none" stroke-linejoin="round"/>
<path d="M661.2,66.1 662.8,66.1 662.8,67.0 661.2,67.0Z" stroke="#000" stroke-width="0.9" fill="none" stroke-linejoin="round"/>
<path d="M663.3,77.2 664.9,77.2 664.9,78.0 663.3,78.0Z" stroke="#000" stroke-width="0.9" fill="none" stroke-linejoin="round"/>
<path d="M666.7,64.7 668.4,64.7 668.4,65.6 666.7,65.6Z" stroke="#000" stroke-width="0.9" fill="none" stroke-linejoin="round"/>
<path d="M670.9,74.4 672.5,74.4 672.5,75.3 670.9,75.3Z" stroke="#000" stroke-width="0.9" fill="none" stroke-linejoin="round"/>
<path d="M659.8,57.8 661.5,57.8 661.5,58.6 659.8,58.6Z" stroke="#000" stroke-width="0.9" fill="none" stroke-linejoin="round"/>
<path d="M664.6,57.1 666.3,57.1 666.3,58.0 664.6,58.0Z" stroke="#000" stroke-width="0.9" fill="none" stroke-linejoin="round"/>
<path d="M668.8,65.4 670.5,65.4 670.5,66.3 668.8,66.3Z" stroke="#000" stroke-width="0.9" fill="none" stroke-linejoin="round"/>
<path d="M673.6,72.4 675.3,72.4 675.3,73.2 673.6,73.2Z" stroke="#000" stroke-width="0.9" fill="none" stroke-linejoin="round"/>
<path d="M515.6,63.1 518.0,61.3 522.7,60.7 528.7,63.1 534.6,61.9 541.7,61.3 547.7,60.1 549.4,61.3 546.5,65.4 544.1,69.0 545.3,72.6 543.5,76.7 539.3,76.7 533.4,73.7 527.5,71.4 521.5,69.0 516.8,66.6 515.0,64.8Z" stroke="#000" stroke-width="0.9" fill="none" stroke-linejoin="round"/>
<path d="M550.0,52.4 550.0,54.7 551.2,57.1 550.0,61.9 552.4,63.1 556.0,60.7 558.9,57.1 559.3,54.7 559.5,52.4" stroke="#000" stroke-width="0.9" fill="none" stroke-linejoin="round"/>
<path d="M534.0,83.8 535.8,84.2 537.6,85.6 535.8,86.2 534.4,85.3Z" stroke="#000" stroke-width="0.9" fill="none" stroke-linejoin="round"/>
<path d="M509.1,74.7 510.3,74.7 510.4,76.4 509.2,76.4Z" stroke="#000" stroke-width="0.9" fill="none" stroke-linejoin="round"/>
<path d="M72.3,56.3 75.8,56.7 80.6,57.9 79.8,58.7 76.6,57.9 72.7,57.1Z" stroke="#000" stroke-width="0.9" fill="none" stroke-linejoin="round"/>
<path d="M78.2,55.5 81.4,55.7 83.7,56.7 83.3,57.5 80.6,56.3Z" stroke="#000" stroke-width="0.9" fill="none" stroke-linejoin="round"/>
<path d="M88.5,54.9 91.7,54.9 91.7,56.2 89.3,56.3Z" stroke="#000" stroke-width="0.9" fill="none" stroke-linejoin="round"/>
<path d="M104.3,64.2 107.5,64.1 111.8,64.9 111.4,66.2 107.5,65.8 104.7,65.4Z" stroke="#000" stroke-width="0.9" fill="none" stroke-linejoin="round"/>
<path d="M111.4,73.1 113.2,72.9 113.8,74.1 112.2,74.5Z" stroke="#000" stroke-width="0.9" fill="none" stroke-linejoin="round"/>
<path d="M188.8,161.5 191.2,161.9 190.8,164.9 188.4,164.3Z" stroke="#000" stroke-width="0.9" fill="none" stroke-linejoin="round"/>
<path d="M187.8,171.8 189.8,171.4 190.0,173.4 187.8,173.4Z" stroke="#000" stroke-width="0.9" fill="none" stroke-linejoin="round"/>
<path d="M195.9,168.2 197.9,168.2 197.9,169.8 195.9,169.8Z" stroke="#000" stroke-width="0.9" fill="none" stroke-linejoin="round"/>
<path d="M200.3,167.8 208.2,163.9 205.6,168.8 201.7,169.4Z" stroke="#000" stroke-width="0.9" fill="none" stroke-linejoin="round"/>
<path d="M212.6,168.2 216.1,168.2 216.5,171.4 213.0,171.4Z" stroke="#000" stroke-width="0.9" fill="none" stroke-linejoin="round"/>
<path d="M226.8,169.4 230.8,164.3 234.0,160.3 232.4,164.3 229.4,169.0Z" stroke="#000" stroke-width="0.9" fill="none" stroke-linejoin="round"/>
<path d="M233.4,158.9 236.7,157.5 237.5,158.9 234.4,160.3Z" stroke="#000" stroke-width="0.9" fill="none" stroke-linejoin="round"/>
<path d="M196.8,118.4 201.0,117.9 202.8,119.9 198.5,120.4Z" stroke="#000" stroke-width="0.9" fill="none" stroke-linejoin="round"/>
<path d="M110.1,286.8 113.1,286.0 114.1,288.2 114.6,289.9 113.1,290.1 111.2,288.6 109.8,287.9Z" stroke="#000" stroke-width="0.9" fill="none" stroke-linejoin="round"/>
<path d="M120.2,291.5 124.0,291.9 123.8,292.8 120.7,293.1Z" stroke="#000" stroke-width="0.9" fill="none" stroke-linejoin="round"/>
<path d="M135.2,289.4 136.1,289.6 136.3,291.9 135.4,291.7Z" stroke="#000" stroke-width="0.9" fill="none" stroke-linejoin="round"/>
<path d="M135.4,296.4 138.2,296.3 138.8,297.7 136.0,298.7 135.2,297.7Z" stroke="#000" stroke-width="0.9" fill="none" stroke-linejoin="round"/>
<path d="M132.3,306.1 133.7,306.1 133.9,307.7 132.4,307.8Z" stroke="#000" stroke-width="0.9" fill="none" stroke-linejoin="round"/>
<path d="M126.3,306.2 127.6,305.9 130.6,309.5 128.4,310.6 126.5,308.4Z" stroke="#000" stroke-width="0.9" fill="none" stroke-linejoin="round"/>
<path d="M118.6,309.5 120.2,308.9 121.7,310.0 120.2,311.6 118.7,310.9Z" stroke="#000" stroke-width="0.9" fill="none" stroke-linejoin="round"/>
<path d="M336.9,140.6 329.2,143.6 324.5,148.3 315.0,150.7 307.8,152.5 301.9,154.2 296.0,157.8 288.8,162.0 288.2,174.4 287.7,177.4 340.0,208.8 345.8,212.4" stroke="#000" stroke-width="1" stroke-dasharray="2.5 1.5" fill="none"/>
<path d="M287.7,177.4 284.1,178.6 279.3,180.4 274.6,182.1 271.0,180.9 265.1,180.4 260.4,181.5 258.0,185.1 254.4,189.9 253.2,191.6" stroke="#000" stroke-width="1" stroke-dasharray="2.5 1.5" fill="none"/>
<path d="M199.6,240.8 241.7,240.8 241.7,225.6 242.7,223.5 250.8,219.5 252.9,217.4 252.9,191.6 270.0,191.1" stroke="#000" stroke-width="1" stroke-dasharray="2.5 1.5" fill="none"/>
<path d="M222.4,240.8 225.0,236.7 228.5,231.6 230.6,223.5 232.6,216.4 238.7,212.4 241.7,207.8 247.8,203.8 250.8,197.2 252.9,191.6 255.9,188.0 260.0,185.0" stroke="#000" stroke-width="1" stroke-dasharray="2.5 1.5" fill="none"/>
<path d="M310.8,202.3 327.4,202.3" stroke="#000" stroke-width="1" stroke-dasharray="2.5 1.5" fill="none"/>
<path d="M310.8,202.3 310.8,218.3" stroke="#000" stroke-width="1" stroke-dasharray="2.5 1.5" fill="none"/>
<path d="M359.0,94.6 361.9,96.6 362.9,103.5 363.9,111.5 364.9,119.4 368.9,122.4 366.9,125.3 361.0,126.3 355.0,125.3 351.0,127.3 343.1,129.3 341.1,132.3 341.1,137.2 337.2,139.2 329.3,143.2 325.3,148.1 315.4,150.1 305.5,153.1 297.6,157.0 288.6,162.0 287.6,168.9 287.6,176.8 289.6,179.8" stroke="#000" stroke-width="1" stroke-dasharray="2.5 1.5" fill="none"/>
<path d="M470.2,74.6 470.2,77.7 471.0,85.7 470.2,93.6 468.6,98.3 462.3,104.6 461.5,107.8 463.9,112.6 470.2,117.3 475.0,123.6 478.9,128.4 480.5,136.3 482.9,145.8" stroke="#000" stroke-width="1" stroke-dasharray="2.5 1.5" fill="none"/>
<path d="M482.9,145.8 487.6,143.4 490.8,139.5 490.8,133.1 492.4,130.0 500.3,124.4 505.0,122.1 505.0,115.7" stroke="#000" stroke-width="1" stroke-dasharray="2.5 1.5" fill="none"/>
<path d="M482.9,145.8 484.5,152.1 485.2,155.4" stroke="#000" stroke-width="1" stroke-dasharray="2.5 1.5" fill="none"/>
<path d="M483.5,150.0 486.5,157.9 487.5,169.8 486.5,184.7 482.6,188.6 488.5,197.6 492.5,206.5 500.4,207.5 504.4,209.4 509.3,218.4" stroke="#000" stroke-width="1" stroke-dasharray="2.5 1.5" fill="none"/>
<path d="M556.0,220.3 560.0,222.3 579.8,231.2 599.6,241.1 619.4,251.0 638.3,260.0" stroke="#000" stroke-width="1" stroke-dasharray="2.5 1.5" fill="none"/>
<path d="M649.6,234.8 649.6,255.0 639.3,256.0 638.3,261.0 638.9,280.8" stroke="#000" stroke-width="1" stroke-dasharray="2.5 1.5" fill="none"/>
<path d="M637.5,260.7 638.4,255.8 649.3,255.4 649.3,230.0" stroke="#000" stroke-width="1" stroke-dasharray="2.5 1.5" fill="none"/>
<path d="M637.5,260.7 638.4,279.5 638.4,300.3 629.5,301.3 627.6,305.3 625.6,309.3 621.6,315.2 621.6,321.1 618.6,323.1 615.7,333.0 619.6,337.0 621.6,342.9 625.6,348.9 627.6,354.8 628.5,357.0" stroke="#000" stroke-width="1" stroke-dasharray="2.5 1.5" fill="none"/>
<path d="M614.7,355.8 621.6,352.8 627.6,354.8" stroke="#000" stroke-width="1" stroke-dasharray="2.5 1.5" fill="none"/>
<path d="M723.6,357.0 727.6,350.9 726.6,342.9 731.6,340.0 736.5,339.4 736.5,348.9 738.5,357.0" stroke="#000" stroke-width="1" stroke-dasharray="2.5 1.5" fill="none"/>
<path d="M778.1,287.5 775.2,295.4 773.2,309.3 773.2,317.2 779.9,315.2" stroke="#000" stroke-width="1" stroke-dasharray="2.5 1.5" fill="none"/>
<path d="M773.2,317.2 770.2,327.1 766.2,334.0 760.3,339.0 756.3,346.9 750.4,354.8 746.4,360.8" stroke="#000" stroke-width="1" stroke-dasharray="2.5 1.5" fill="none"/>
<path d="M638.3,300.0 628.8,301.2 624.1,309.5 621.7,316.6 619.3,323.7 617.0,330.9 621.7,338.0 624.1,347.5 626.5,352.2" stroke="#000" stroke-width="1" stroke-dasharray="2.5 1.5" fill="none"/>
<path d="M555.3,391.4 560.0,389.0 571.9,384.3 581.4,381.9 586.1,376.0 595.6,372.4 605.1,368.8 612.2,359.3 619.3,354.6 626.5,352.2 631.2,357.0 634.8,364.1 633.6,374.8 638.3,377.2 641.9,380.7 650.2,384.3 655.0,390.2 662.1,397.3 665.6,400.9" stroke="#000" stroke-width="1" stroke-dasharray="2.5 1.5" fill="none"/>
<path d="M640.7,377.2 645.5,366.5 650.2,359.3 657.3,358.2 662.1,364.1 666.8,368.4 678.7,367.7 683.4,370.0 690.6,370.0 697.7,364.1 702.4,361.2 711.9,365.3 719.1,361.7 726.2,353.4 728.5,349.9 726.2,341.5 735.7,339.9 735.7,354.6 742.8,360.5 746.4,365.3 747.5,376.0" stroke="#000" stroke-width="1" stroke-dasharray="2.5 1.5" fill="none"/>
<path d="M747.5,364.1 749.9,357.0 757.0,347.5 761.8,338.0 768.9,333.2 772.5,323.7 772.5,316.6 774.8,300.0" stroke="#000" stroke-width="1" stroke-dasharray="2.5 1.5" fill="none"/>
<path d="M772.5,316.6 783.1,317.8 787.9,311.9 800.0,314.2" stroke="#000" stroke-width="1" stroke-dasharray="2.5 1.5" fill="none"/>
<path d="M781.1,250.0 781.5,258.0 782.5,265.0 786.0,270.0 790.0,274.3" stroke="#000" stroke-width="0.9" fill="none" stroke-linejoin="round"/>
<path d="M649.6,234.8 696.0,234.6" stroke="#000" stroke-width="1" stroke-dasharray="2.5 1.5" fill="none"/>
<path d="M792.9,279.0 781.1,284.9 778.2,287.5" stroke="#000" stroke-width="1" stroke-dasharray="2.5 1.5" fill="none"/>
<path d="M608.6,63.9 610.4,66.2 612.8,68.6 612.2,71.6 614.6,74.6 617.0,73.4 619.3,74.6 621.7,78.7 622.9,77.5 624.1,75.7 625.9,76.9 628.2,79.3 628.8,76.3 627.0,72.2 625.3,68.0 627.0,67.4 630.6,68.6 632.4,68.0 630.6,65.6 628.8,64.5 628.2,63.6 625.9,62.7 622.9,61.5 620.5,60.3 617.6,59.1 614.6,59.1 611.0,59.7 608.6,63.9Z" stroke="#000" stroke-width="0.9" fill="none" stroke-linejoin="round"/>
<path d="M605.1,53.8 605.7,55.6 608.1,58.5 610.4,58.5 612.8,59.7 615.8,58.5 621.1,57.9 625.9,59.7 629.4,61.5 632.4,62.7 636.5,65.1 638.9,66.2 639.5,63.9 640.1,59.1 640.7,56.2 640.1,53.8" stroke="#000" stroke-width="0.9" fill="none" stroke-linejoin="round"/>
<path d="M628.2,54.4 633.6,55.6 638.3,57.3 641.9,60.3 644.9,62.7 648.4,65.1 653.2,68.0 652.0,69.2 647.2,66.2 642.5,63.3 637.7,59.7 633.0,57.3 629.4,55.6Z" stroke="#000" stroke-width="0.9" fill="none" stroke-linejoin="round"/>
<path d="M599.7,59.7 601.5,57.9 603.3,58.5 603.9,60.9 602.1,61.8 600.0,60.9Z" stroke="#000" stroke-width="0.9" fill="none" stroke-linejoin="round"/>
<path d="M602.4,64.2 604.5,64.2 606.3,65.6 604.5,66.5 602.7,65.6Z" stroke="#000" stroke-width="0.9" fill="none" stroke-linejoin="round"/>
<path d="M600.9,55.3 602.7,55.0 603.3,56.5 601.8,56.7Z" stroke="#000" stroke-width="0.9" fill="none" stroke-linejoin="round"/>
</g>
<rect x="60.5" y="54.5" width="931.0" height="448.0" fill="none" stroke="#a0a0a0" stroke-width="1"/>
<text x="11.0" y="68.0" font-size="17.7" fill="#707070" textLength="42.6" lengthAdjust="spacingAndGlyphs">38°N</text>
<text x="11.0" y="89.4" font-size="17.7" fill="#707070" textLength="42.6" lengthAdjust="spacingAndGlyphs">36°N</text>
<text x="11.0" y="110.9" font-size="17.7" fill="#707070" textLength="42.6" lengthAdjust="spacingAndGlyphs">34°N</text>
<text x="11.0" y="132.3" font-size="17.7" fill="#707070" textLength="42.6" lengthAdjust="spacingAndGlyphs">32°N</text>
<text x="11.0" y="153.8" font-size="17.7" fill="#707070" textLength="42.6" lengthAdjust="spacingAndGlyphs">30°N</text>
<text x="11.0" y="175.2" font-size="17.7" fill="#707070" textLength="42.6" lengthAdjust="spacingAndGlyphs">28°N</text>
<text x="11.0" y="196.6" font-size="17.7" fill="#707070" textLength="42.6" lengthAdjust="spacingAndGlyphs">26°N</text>
<text x="11.0" y="218.1" font-size="17.7" fill="#707070" textLength="42.6" lengthAdjust="spacingAndGlyphs">24°N</text>
<text x="11.0" y="239.5" font-size="17.7" fill="#707070" textLength="42.6" lengthAdjust="spacingAndGlyphs">22°N</text>
<text x="11.0" y="261.0" font-size="17.7" fill="#707070" textLength="42.6" lengthAdjust="spacingAndGlyphs">20°N</text>
<text x="11.0" y="282.4" font-size="17.7" fill="#707070" textLength="42.6" lengthAdjust="spacingAndGlyphs">18°N</text>
<text x="11.0" y="303.8" font-size="17.7" fill="#707070" textLength="42.6" lengthAdjust="spacingAndGlyphs">16°N</text>
<text x="11.0" y="325.3" font-size="17.7" fill="#707070" textLength="42.6" lengthAdjust="spacingAndGlyphs">14°N</text>
<text x="11.0" y="346.7" font-size="17.7" fill="#707070" textLength="42.6" lengthAdjust="spacingAndGlyphs">12°N</text>
<text x="11.0" y="368.2" font-size="17.7" fill="#707070" textLength="42.6" lengthAdjust="spacingAndGlyphs">10°N</text>
<text x="21.6" y="389.6" font-size="17.7" fill="#707070" textLength="32.0" lengthAdjust="spacingAndGlyphs">8°N</text>
<text x="21.6" y="411.0" font-size="17.7" fill="#707070" textLength="32.0" lengthAdjust="spacingAndGlyphs">6°N</text>
<text x="21.6" y="432.5" font-size="17.7" fill="#707070" textLength="32.0" lengthAdjust="spacingAndGlyphs">4°N</text>
<text x="21.6" y="453.9" font-size="17.7" fill="#707070" textLength="32.0" lengthAdjust="spacingAndGlyphs">2°N</text>
<text x="34.5" y="475.4" font-size="17.7" fill="#707070" textLength="19.1" lengthAdjust="spacingAndGlyphs">0°</text>
<text x="22.9" y="496.8" font-size="17.7" fill="#707070" textLength="31.2" lengthAdjust="spacingAndGlyphs">2°S</text>
<text x="59.3" y="522.6" font-size="17.5" fill="#707070" textLength="45.5" lengthAdjust="spacingAndGlyphs">28°W</text>
<text x="145.0" y="522.6" font-size="17.5" fill="#707070" textLength="45.5" lengthAdjust="spacingAndGlyphs">20°W</text>
<text x="230.8" y="522.6" font-size="17.5" fill="#707070" textLength="45.5" lengthAdjust="spacingAndGlyphs">12°W</text>
<text x="279.0" y="522.6" font-size="17.5" fill="#707070" textLength="34.7" lengthAdjust="spacingAndGlyphs">8°W</text>
<text x="321.9" y="522.6" font-size="17.5" fill="#707070" textLength="34.7" lengthAdjust="spacingAndGlyphs">4°W</text>
<text x="373.3" y="522.6" font-size="17.5" fill="#707070" textLength="17.5" lengthAdjust="spacingAndGlyphs">0°</text>
<text x="410.4" y="522.6" font-size="17.5" fill="#707070" textLength="29.0" lengthAdjust="spacingAndGlyphs">4°E</text>
<text x="453.3" y="522.6" font-size="17.5" fill="#707070" textLength="29.0" lengthAdjust="spacingAndGlyphs">8°E</text>
<text x="491.4" y="522.6" font-size="17.5" fill="#707070" textLength="38.4" lengthAdjust="spacingAndGlyphs">12°E</text>
<text x="534.3" y="522.6" font-size="17.5" fill="#707070" textLength="38.4" lengthAdjust="spacingAndGlyphs">16°E</text>
<text x="577.2" y="522.6" font-size="17.5" fill="#707070" textLength="38.4" lengthAdjust="spacingAndGlyphs">20°E</text>
<text x="620.0" y="522.6" font-size="17.5" fill="#707070" textLength="38.4" lengthAdjust="spacingAndGlyphs">24°E</text>
<text x="662.9" y="522.6" font-size="17.5" fill="#707070" textLength="38.4" lengthAdjust="spacingAndGlyphs">28°E</text>
<text x="705.7" y="522.6" font-size="17.5" fill="#707070" textLength="38.4" lengthAdjust="spacingAndGlyphs">32°E</text>
<text x="748.6" y="522.6" font-size="17.5" fill="#707070" textLength="38.4" lengthAdjust="spacingAndGlyphs">36°E</text>
<text x="791.4" y="522.6" font-size="17.5" fill="#707070" textLength="38.4" lengthAdjust="spacingAndGlyphs">40°E</text>
<text x="834.3" y="522.6" font-size="17.5" fill="#707070" textLength="38.4" lengthAdjust="spacingAndGlyphs">44°E</text>
<text x="877.1" y="522.6" font-size="17.5" fill="#707070" textLength="38.4" lengthAdjust="spacingAndGlyphs">48°E</text>
<text x="920.0" y="522.6" font-size="17.5" fill="#707070" textLength="38.4" lengthAdjust="spacingAndGlyphs">52°E</text>
<text x="962.9" y="522.6" font-size="17.5" fill="#707070" textLength="38.4" lengthAdjust="spacingAndGlyphs">56°E</text>
<rect x="153.50" y="570.5" width="53.51" height="20.5" fill="#735cd8"/>
<rect x="206.71" y="570.5" width="53.51" height="20.5" fill="#1f6be8"/>
<rect x="259.93" y="570.5" width="53.51" height="20.5" fill="#2b80f0"/>
<rect x="313.14" y="570.5" width="53.51" height="20.5" fill="#3c93f5"/>
<rect x="366.36" y="570.5" width="53.51" height="20.5" fill="#53a6f2"/>
<rect x="419.57" y="570.5" width="53.51" height="20.5" fill="#78b6f5"/>
<rect x="472.79" y="570.5" width="53.51" height="20.5" fill="#9bd2f9"/>
<rect x="526.00" y="570.5" width="53.51" height="20.5" fill="#b3eff8"/>
<rect x="579.21" y="570.5" width="53.51" height="20.5" fill="#fff66b"/>
<rect x="632.43" y="570.5" width="53.51" height="20.5" fill="#ffe200"/>
<rect x="685.64" y="570.5" width="53.51" height="20.5" fill="#ff9c00"/>
<rect x="738.86" y="570.5" width="53.51" height="20.5" fill="#ff6200"/>
<rect x="792.07" y="570.5" width="53.51" height="20.5" fill="#ff3300"/>
<rect x="845.29" y="570.5" width="53.51" height="20.5" fill="#e01a00"/>
<rect x="153.5" y="570.5" width="745.0" height="20.5" fill="none" stroke="#a8a8a8" stroke-width="1"/>
<text transform="translate(153.5,606.8) scale(0.92,1)" font-size="14.4" fill="#222" text-anchor="middle">984</text>
<text transform="translate(206.7,606.8) scale(0.92,1)" font-size="14.4" fill="#222" text-anchor="middle">988</text>
<text transform="translate(259.9,606.8) scale(0.92,1)" font-size="14.4" fill="#222" text-anchor="middle">992</text>
<text transform="translate(313.1,606.8) scale(0.92,1)" font-size="14.4" fill="#222" text-anchor="middle">996</text>
<text transform="translate(366.4,606.8) scale(0.985,1)" font-size="14.4" fill="#222" text-anchor="middle">1000</text>
<text transform="translate(419.6,606.8) scale(0.985,1)" font-size="14.4" fill="#222" text-anchor="middle">1004</text>
<text transform="translate(472.8,606.8) scale(0.985,1)" font-size="14.4" fill="#222" text-anchor="middle">1008</text>
<text transform="translate(526.0,606.8) scale(0.985,1)" font-size="14.4" fill="#222" text-anchor="middle">1012</text>
<text transform="translate(579.2,606.8) scale(0.985,1)" font-size="14.4" fill="#222" text-anchor="middle">1016</text>
<text transform="translate(632.4,606.8) scale(0.985,1)" font-size="14.4" fill="#222" text-anchor="middle">1020</text>
<text transform="translate(685.6,606.8) scale(0.985,1)" font-size="14.4" fill="#222" text-anchor="middle">1024</text>
<text transform="translate(738.9,606.8) scale(0.985,1)" font-size="14.4" fill="#222" text-anchor="middle">1028</text>
<text transform="translate(792.1,606.8) scale(0.985,1)" font-size="14.4" fill="#222" text-anchor="middle">1032</text>
<text transform="translate(845.3,606.8) scale(0.985,1)" font-size="14.4" fill="#222" text-anchor="middle">1036</text>
<text transform="translate(898.5,606.8) scale(0.985,1)" font-size="14.4" fill="#222" text-anchor="middle">1040</text>
<text transform="translate(526.2,626.8) scale(0.975,1)" font-size="14.4" fill="#222" text-anchor="middle">Pression (Hpa)</text>
</svg></body></html>
